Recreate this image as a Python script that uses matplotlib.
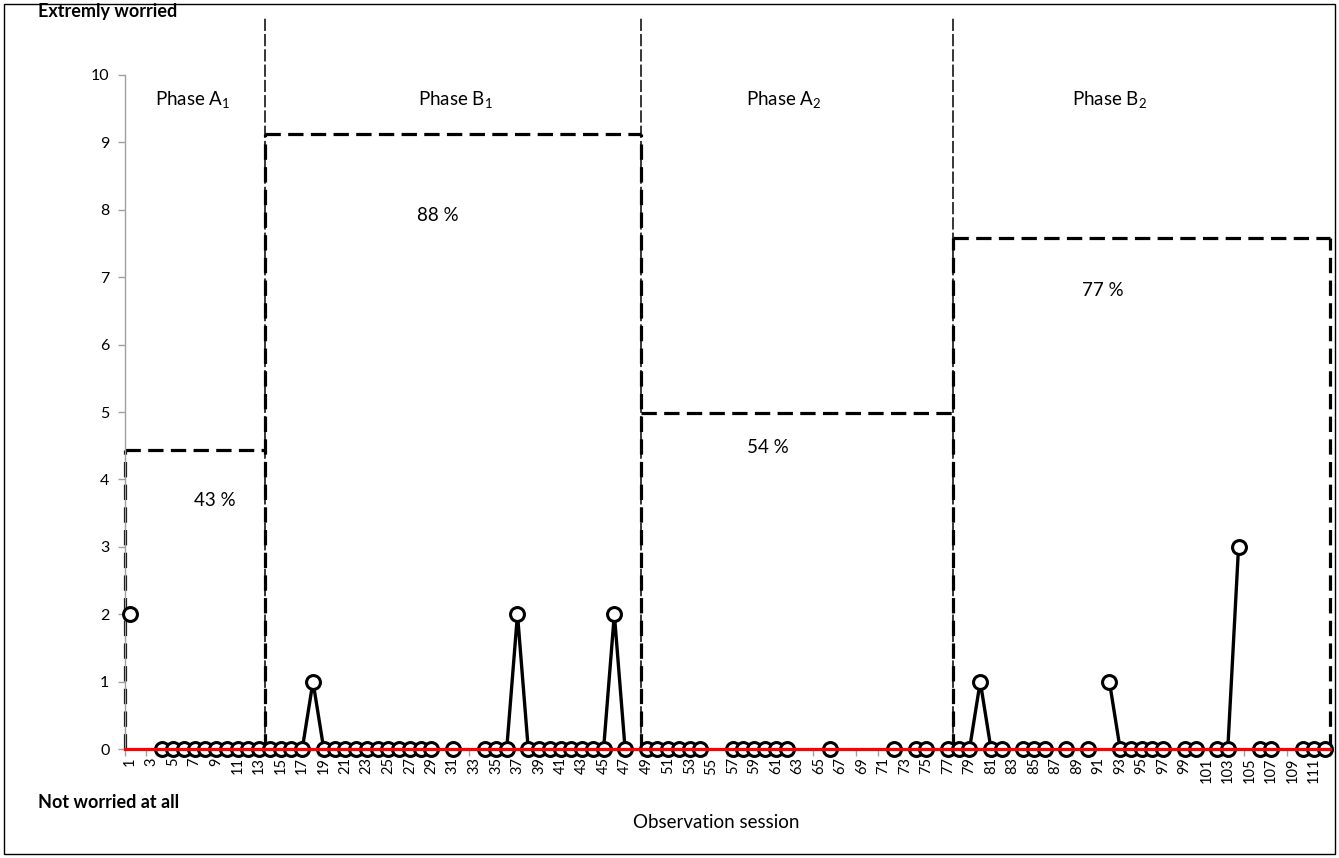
import numpy as np
import matplotlib.pyplot as plt
from matplotlib.patches import Rectangle

plt.rcParams['font.family'] = ['Lato', 'DejaVu Sans']
plt.rcParams['mathtext.fontset'] = 'custom'
plt.rcParams['mathtext.rm'] = 'Lato'
plt.rcParams['mathtext.it'] = 'Lato'

N = None
# worry rating per observation session (None = no observation)
sessions = list(range(1, 113))
worry = [2, N, N, 0, 0, 0, 0, 0, 0, 0,
         0, 0, 0, 0, 0, 0, 0, 1, 0, 0,
         0, 0, 0, 0, 0, 0, 0, 0, 0, N,
         0, N, N, 0, 0, 0, 2, 0, 0, 0,
         0, 0, 0, 0, 0, 2, 0, N, 0, 0,
         0, 0, 0, 0, N, N, 0, 0, 0, 0,
         0, 0, N, N, N, 0, N, N, N, N,
         N, 0, N, 0, 0, N, 0, 0, 0, 1,
         0, 0, N, 0, 0, 0, N, 0, N, 0,
         N, 1, 0, 0, 0, 0, 0, N, 0, 0,
         N, 0, 0, 3, N, 0, 0, N, N, 0,
         0, 0]

phase_names = ['Phase A$_1$', 'Phase B$_1$', 'Phase A$_2$', 'Phase B$_2$']
phase_start = [0.5, 13.5, 48.5, 77.5]
phase_end = [13.5, 48.5, 77.5, 112.5]
phase_height = [4.43, 9.12, 4.99, 7.58]
phase_pct = ['43 %', '88 %', '54 %', '77 %']

y = np.array([np.nan if v is None else v for v in worry], dtype=float)

fig = plt.figure(figsize=(13.39, 8.58), dpi=100)
ax = fig.add_axes([0.0931, 0.127, 0.9002, 0.7856])

thick = dict(color='black', lw=2.3, linestyle=(0, (4.8, 2.3)), zorder=2, clip_on=False)
# tops of the phase boxes
for s, e, h in zip(phase_start, phase_end, phase_height):
    ax.plot([s, e], [h, h], **thick)
# shared vertical edges drawn once, as tall as the taller neighbour
edges = phase_start + [phase_end[-1]]
for i, xe in enumerate(edges):
    left = phase_height[i - 1] if i > 0 else 0
    right = phase_height[i] if i < len(phase_height) else 0
    ax.plot([xe, xe], [0, max(left, right)], **thick)

# phase change lines
for s in phase_start[1:]:
    ax.plot([s, s], [0, 10.85], color='black', lw=1.1,
            linestyle=(0, (8, 2)), clip_on=False, zorder=2)

# data line
ax.plot(sessions, y, color='black', lw=2.4, marker='o', ms=10,
        mfc='white', mec='black', mew=2.2, zorder=3, clip_on=False)

# baseline
ax.plot([0.5, 112.5], [0, 0], color='red', lw=2.3, zorder=4, clip_on=False)

# labels
phase_label_x = [6.8, 31.2, 61.7, 92.0]
pct_pos = [(8.9, 3.69), (29.6, 7.92), (60.3, 4.48), (91.4, 6.81)]
for name, lx in zip(phase_names, phase_label_x):
    ax.text(lx, 9.63, name, ha='center', va='center', fontsize=13.5)
for pct, (px, py) in zip(phase_pct, pct_pos):
    ax.text(px, py, pct, ha='center', va='center', fontsize=13.5)

ax.set_xlim(0.5, 112.5)
ax.set_ylim(0, 10)
ax.set_yticks(range(0, 11))
ax.set_xticks(range(1, 113, 2))
ax.set_xticklabels([str(i) for i in range(1, 113, 2)], rotation=90, fontsize=10.5)
ax.set_xticks(np.arange(0.5, 113, 2), minor=True)
ax.tick_params(axis='x', which='major', length=0, pad=6)
ax.tick_params(axis='x', which='minor', length=5, color='#a0a0a0', width=1)
ax.tick_params(axis='y', length=5, color='#a0a0a0', width=1, labelsize=11.5, pad=6)
for side in ['top', 'right']:
    ax.spines[side].set_visible(False)
for side in ['left', 'bottom']:
    ax.spines[side].set_color('#a0a0a0')
    ax.spines[side].set_linewidth(1)

fig.text(38 / 1339, 1 - 12 / 858, 'Extremly worried', fontsize=13, fontweight='bold',
         ha='left', va='center')
fig.text(38 / 1339, 1 - 803 / 858, 'Not worried at all', fontsize=13, fontweight='bold',
         ha='left', va='center')
fig.text(716 / 1339, 1 - 823 / 858, 'Observation session', fontsize=13.5,
         ha='center', va='center')

# chart border
fig.patches.append(Rectangle((4 / 1339, 4 / 858), 1331 / 1339, 850 / 858,
                             transform=fig.transFigure, fill=False,
                             edgecolor='black', lw=1))

fig.savefig('out.png', dpi=100)
